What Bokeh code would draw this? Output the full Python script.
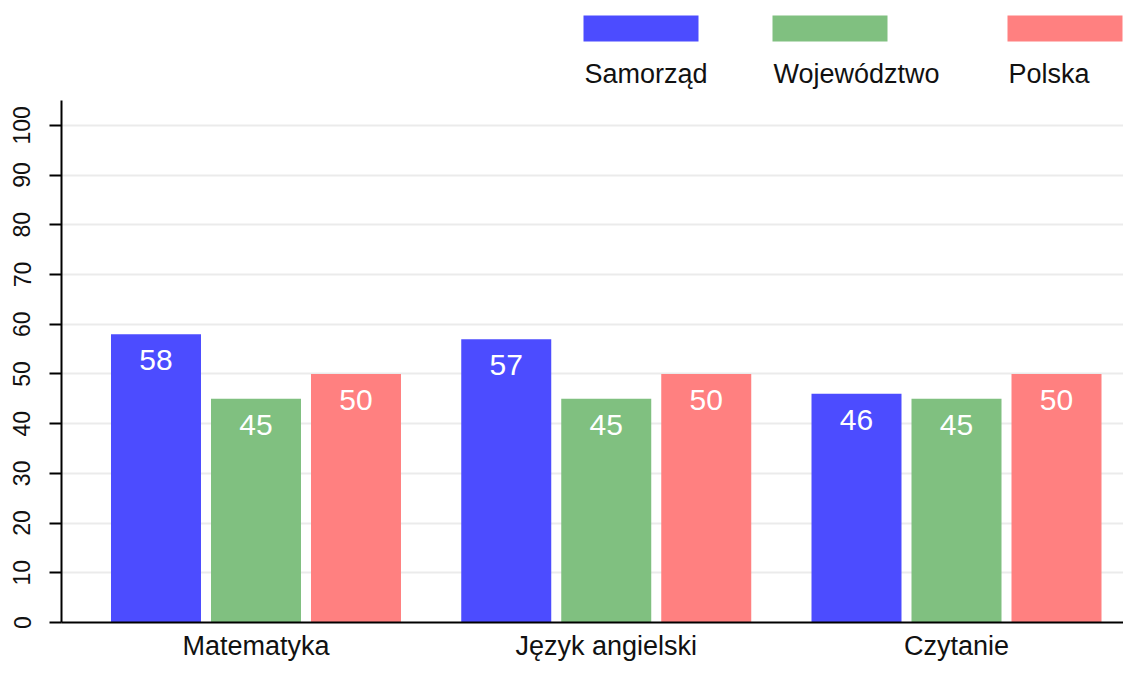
from bokeh.plotting import figure
from bokeh.models import Range1d, FixedTicker, ColumnDataSource
from bokeh.layouts import column
from bokeh.embed import file_html
from bokeh.resources import INLINE
from bokeh.core.properties import value

# ---- data ----
categories = ["Matematyka", "Język angielski", "Czytanie"]
series = ["Samorząd", "Województwo", "Polska"]
samorzad = [58, 57, 46]
wojewodztwo = [45, 45, 45]
polska = [50, 50, 50]
y_ticks = [0, 10, 20, 30, 40, 50, 60, 70, 80, 90, 100]

colors = ["#4c4cff", "#80c080", "#ff8080"]
FONT = value("Liberation Sans")

W = 1123
LEG_H = 100
MAIN_H = 563
LEFT = 61

# ---- legend strip (swatch above label) ----
leg = figure(width=W, height=LEG_H, x_range=Range1d(LEFT, W), y_range=Range1d(LEG_H, 0),
             output_backend="svg", toolbar_location=None, min_border=0,
             min_border_left=LEFT, min_border_right=0,
             x_axis_location=None, y_axis_location=None)
leg.grid.visible = False
leg.outline_line_color = None
leg_left = [583, 772, 1007]
leg_w = 115
leg.quad(left=leg_left, right=[l + leg_w for l in leg_left], top=[15] * 3, bottom=[41] * 3,
         color=colors, line_color=None)
leg.text(x=[l + 1 for l in leg_left], y=[73] * 3, text=series, text_baseline="alphabetic",
         text_align="left", text_font=FONT, text_font_size="27px", text_color="#111111")

# ---- main chart ----
p = figure(width=W, height=MAIN_H, x_range=Range1d(-0.5553, 2.4768), y_range=Range1d(0, 105),
           output_backend="svg", toolbar_location=None,
           min_border_left=LEFT, min_border_right=0, min_border_top=0, min_border_bottom=38)
p.outline_line_color = None
p.background_fill_color = "white"

offsets = [-100 / 350.25, 0.0, 100 / 350.25]
bar_w = 90 / 350.25
all_vals = [samorzad, wojewodztwo, polska]
for j, vals in enumerate(all_vals):
    xs = [i + offsets[j] for i in range(len(categories))]
    src = ColumnDataSource(dict(x=xs, top=vals, label=[str(v) for v in vals]))
    p.vbar(x="x", top="top", width=bar_w, source=src, color=colors[j], line_color=None)
    p.text(x="x", y="top", text="label", source=src, text_align="center", text_baseline="middle",
           y_offset=26, text_font=FONT, text_font_size="30px", text_color="white")

# x axis
p.xaxis.ticker = FixedTicker(ticks=list(range(len(categories))))
p.xaxis.major_label_overrides = {i: c for i, c in enumerate(categories)}
p.xaxis.major_tick_line_color = None
p.xaxis.minor_tick_line_color = None
p.xaxis.axis_line_color = "black"
p.xaxis.axis_line_width = 2
p.xaxis.major_label_text_font = "Liberation Sans"
p.xaxis.major_label_text_font_size = "27px"
p.xaxis.major_label_text_color = "#111111"
p.xaxis.major_label_standoff = 2

# y axis
ya = p.yaxis[0]
ya.ticker = FixedTicker(ticks=y_ticks)
ya.major_tick_out = 12
ya.major_tick_in = 0
ya.major_tick_line_width = 2
ya.major_tick_line_color = "black"
ya.minor_tick_line_color = None
ya.axis_line_color = "black"
ya.axis_line_width = 2
ya.major_label_orientation = "vertical"
ya.major_label_text_font = "Liberation Sans"
ya.major_label_text_font_size = "23px"
ya.major_label_text_color = "#111111"
ya.major_label_standoff = 19

p.xgrid.visible = False
p.ygrid.grid_line_color = "#ebebeb"
p.ygrid.grid_line_width = 2

layout = column(leg, p, spacing=0)
open("out.html", "w").write(file_html(layout, INLINE))
